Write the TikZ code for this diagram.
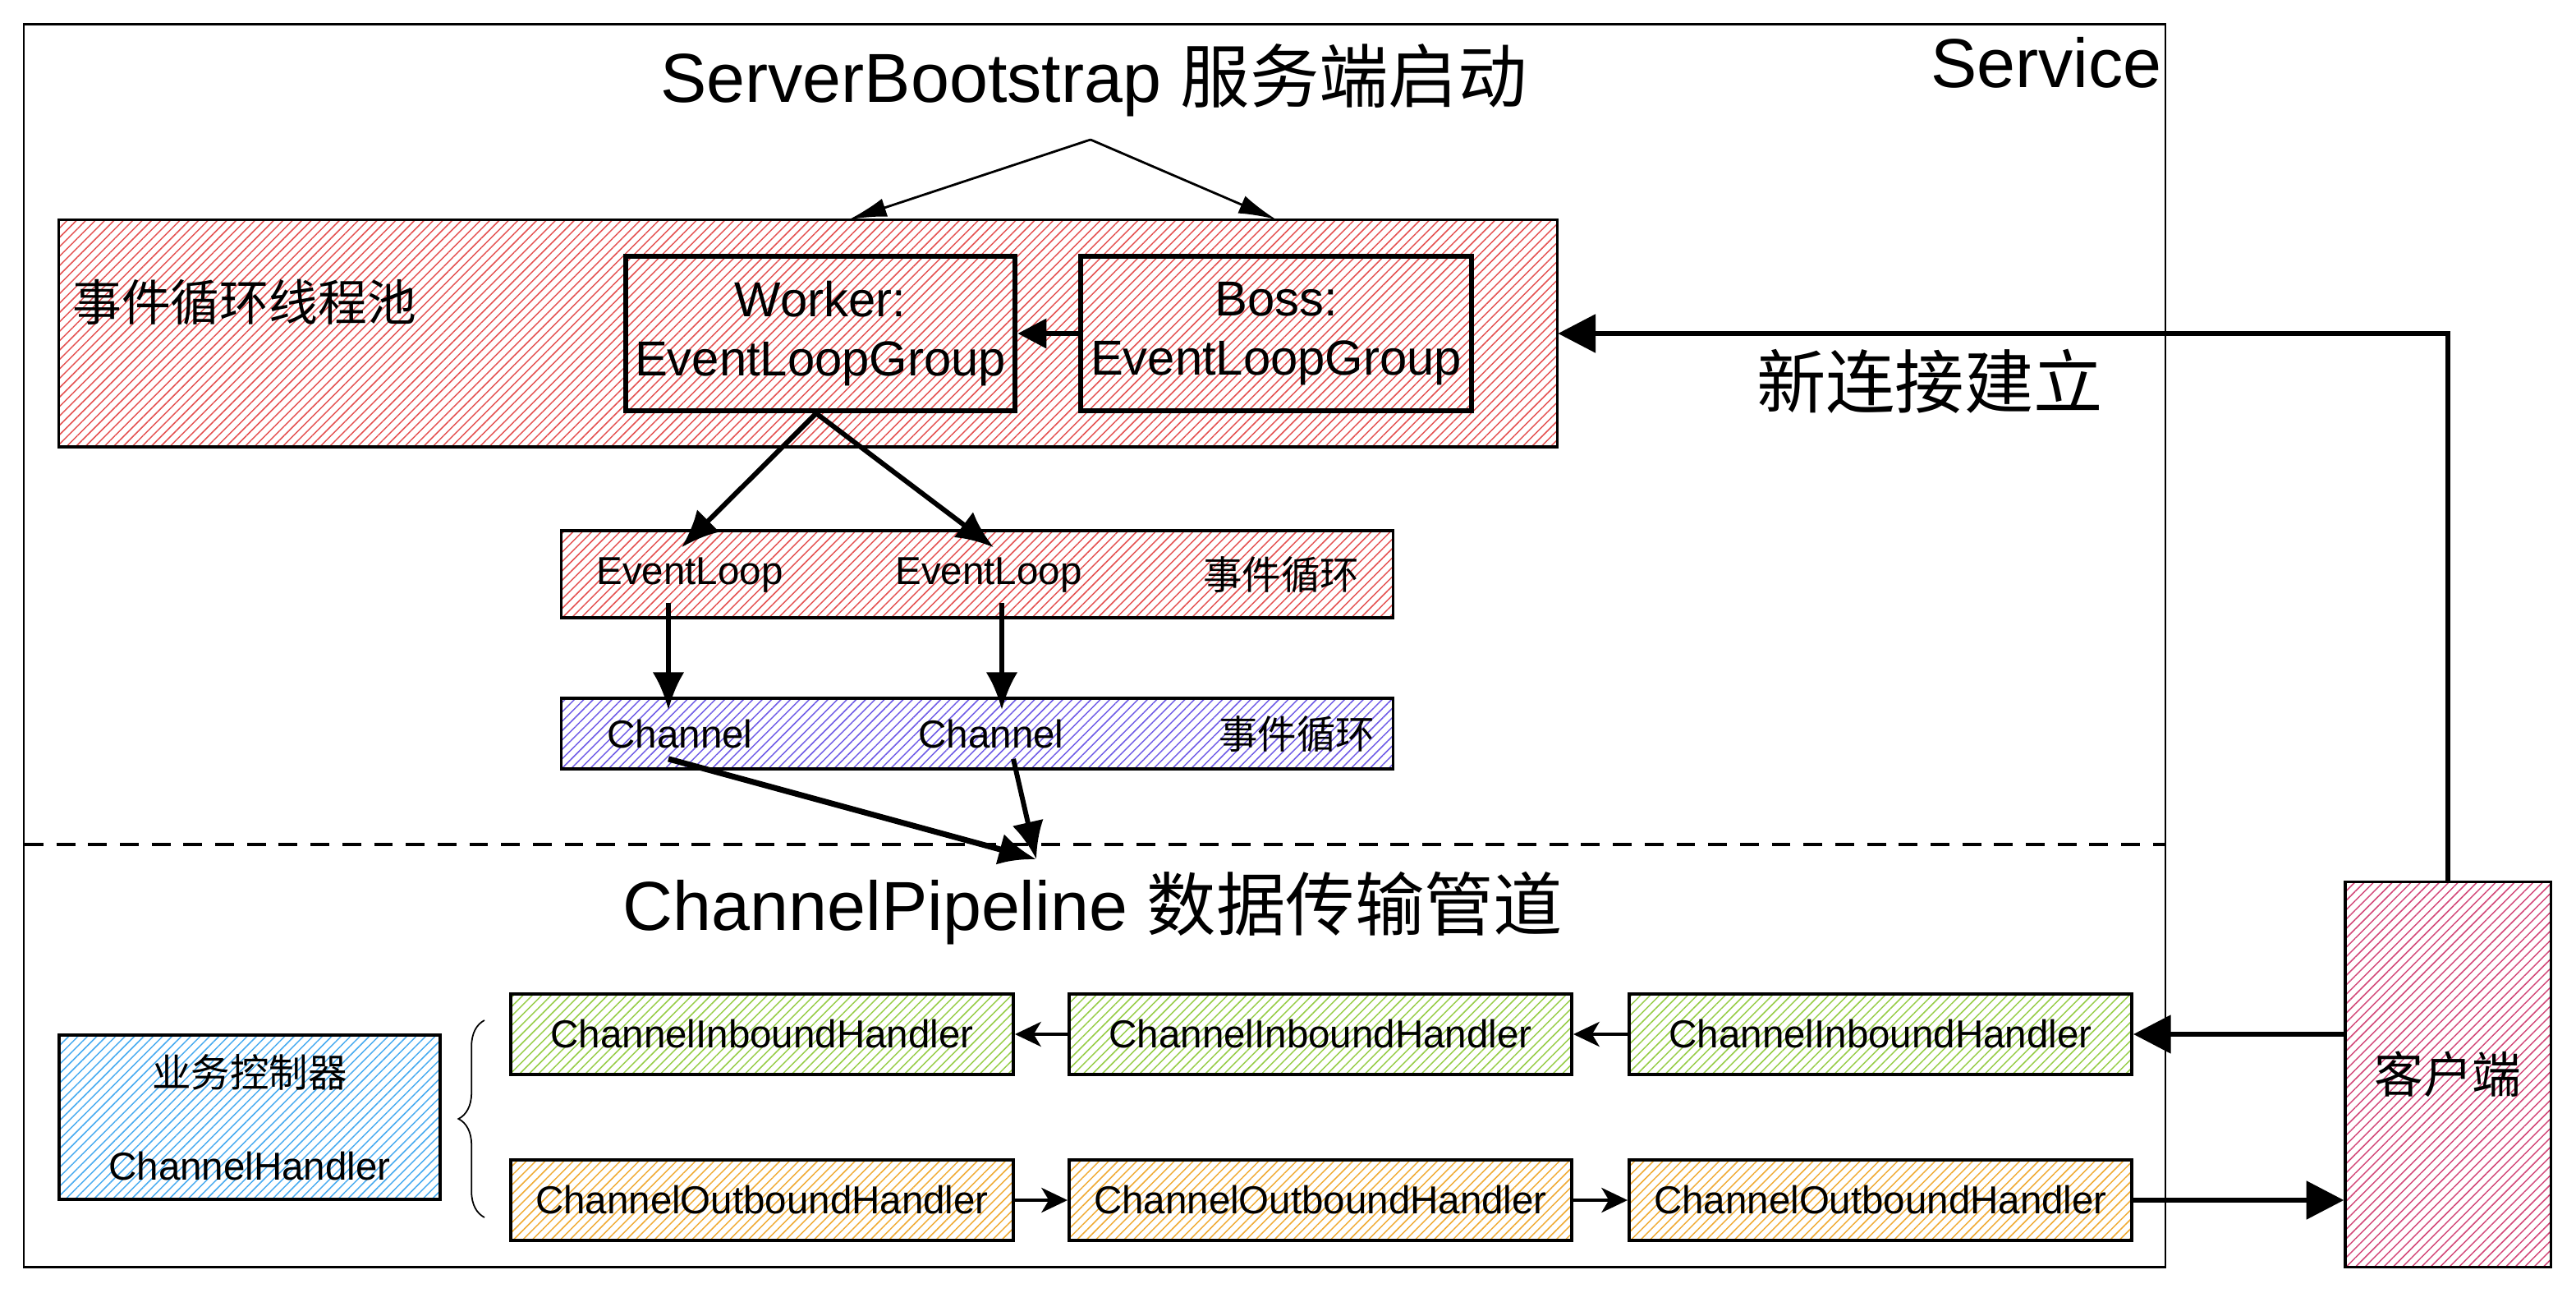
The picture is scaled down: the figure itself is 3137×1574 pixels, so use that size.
\documentclass[tikz,border=0pt]{standalone}
\usepackage{fontspec}
\setmainfont{Liberation Sans}
\newfontfamily\cjk{Noto Sans CJK SC}
\usetikzlibrary{arrows.meta,patterns.meta,calc,decorations.pathreplacing}
\definecolor{poolred}{RGB}{228,80,80}
\definecolor{chanblue}{RGB}{110,90,230}
\definecolor{bizblue}{RGB}{70,170,240}
\definecolor{ingreen}{RGB}{150,205,70}
\definecolor{outorange}{RGB}{240,170,50}
\definecolor{clientpink}{RGB}{210,70,120}
\newcommand{\bigtxt}{\fontsize{24}{28}\selectfont}
\newcommand{\midtxt}{\fontsize{17}{20.5}\selectfont}
\newcommand{\smalltxt}{\fontsize{13.5}{16}\selectfont}
\tikzset{
  hatch/.style={pattern={Lines[angle=45,distance=2.3pt,line width=0.42pt]}, pattern color=#1},
  blk/.style={draw, line width=1pt, inner sep=0pt},
  handler/.style={blk, minimum width=6.12cm, minimum height=0.98cm, font=\smalltxt},
  thinarrow/.style={line width=0.8pt, -{Latex[length=13pt,width=6.5pt]}},
  flowarrow/.style={line width=1.7pt, -{Latex[length=13pt,width=11pt]}},
  bigarrow/.style={line width=1.8pt, -{Triangle[length=13pt,width=13pt]}},
  chainarrow/.style={line width=1.4pt, -{Stealth[length=9pt,width=8.5pt,inset=2.5pt]}}
}
\begin{document}
\begin{tikzpicture}[x=0.01cm, y=-0.01cm]
    \fill[white] (0,0) rectangle (3137,1574);
    \useasboundingbox (0,0) rectangle (3137,1574);
    % 服务端外框
    \node[draw, line width=0.6pt, minimum width=26.06cm, minimum height=15.12cm, inner sep=0pt] (service) at (1333,786) {};
    \node[font=\bigtxt] (servicetxt) at (2492,76) {Service};
    \node[font=\bigtxt] (sbtitle) at (1332,98) {ServerBootstrap {\cjk 服务端启动}};
    \coordinate (fork) at (1328,170);
    % 事件循环线程池
    \node[blk, line width=0.9pt, hatch=poolred, minimum width=18.24cm, minimum height=2.76cm] (pool) at (984,406) {};
    \node[anchor=west, font=\midtxt\cjk] (pooltxt) at (76,368) {事件循环线程池};
    \node[blk, line width=1.8pt, minimum width=4.74cm, minimum height=1.88cm, align=center, font=\midtxt] (worker) at (999,406) {Worker:\\EventLoopGroup};
    \node[blk, line width=1.8pt, minimum width=4.76cm, minimum height=1.88cm, align=center, font=\midtxt] (boss) at (1554,406) {Boss:\\EventLoopGroup};
    \draw[thinarrow] (fork) -- ($(pool.north -| worker)+(35,0)$);
    \draw[thinarrow] (fork) -- (pool.north -| boss);
    \draw[bigarrow, -{Triangle[length=10pt,width=10pt]}] (boss) -- (worker);
    % 新连接
    \node[font=\bigtxt\cjk] (newconn) at (2350,464) {新连接建立};
    % EventLoop / Channel
    \node[blk, hatch=poolred, minimum width=10.12cm, minimum height=1.06cm] (loops) at (1190,699) {};
    \node[font=\smalltxt] (el1) at (840,700) {EventLoop};
    \node[font=\smalltxt] (el2) at (1204,700) {EventLoop};
    \node[font=\smalltxt\cjk] (eltxt) at (1560,700) {事件循环};
    \node[blk, hatch=chanblue, minimum width=10.12cm, minimum height=0.86cm] (chans) at (1190,893) {};
    \node[font=\smalltxt] (ch1) at (828,894) {Channel};
    \node[font=\smalltxt] (ch2) at (1207,894) {Channel};
    \node[font=\smalltxt\cjk] (chtxt) at (1579,894) {事件循环};
    \draw[flowarrow] ($(worker.south)+(-5,0)$) -- ($(el1.north)+(-10,0)$);
    \draw[flowarrow] ($(worker.south)+(-5,0)$) -- ($(el2.north)+(6,0)$);
    \draw[flowarrow] ($(el1.south)+(-26,0)$) -- ($(el1.south |- ch1.north)+(-26,0)$);
    \draw[flowarrow] ($(el2.south)+(16,0)$) -- ($(el2.south |- ch2.north)+(16,0)$);
    \coordinate (merge) at (1262,1046);
    \draw[flowarrow, line width=2pt] ($(ch1.south)+(-14,0)$) -- (merge);
    \draw[flowarrow] ($(ch2.south)+(27,0)$) -- (merge);
    % 分隔线
    \coordinate (divl) at (30,1028);
    \coordinate (divr) at (2636,1028);
    \draw[line width=1.1pt, dash pattern=on 6.5pt off 4.5pt] (divl) -- (divr);
    % ChannelPipeline
    \node[font=\bigtxt] (pipetitle) at (1331,1106) {ChannelPipeline {\cjk 数据传输管道}};
    \node[blk, hatch=bizblue, minimum width=4.64cm, minimum height=2cm, align=center, font=\smalltxt] (biz) at (304,1360) {{\cjk 业务控制器}\\[16pt]ChannelHandler};
    \foreach \n/\x in {1/928,2/1608,3/2290} {
        \node[handler, hatch=ingreen] (in\n) at (\x,1259) {ChannelInboundHandler};
        \node[handler, hatch=outorange] (out\n) at (\x,1461) {ChannelOutboundHandler};
    }
    \coordinate (bracetop) at (590,1242);
    \coordinate (bracebot) at (590,1482);
    \draw[line width=0.5pt, decorate, decoration={brace, amplitude=9pt}] (bracebot) -- (bracetop);
    \draw[chainarrow] (in3) -- (in2);
    \draw[chainarrow] (in2) -- (in1);
    \draw[chainarrow] (out1) -- (out2);
    \draw[chainarrow] (out2) -- (out3);
    % 客户端
    \node[blk, line width=0.9pt, hatch=clientpink, minimum width=2.5cm, minimum height=4.68cm, font=\midtxt\cjk] (client) at (2981,1308) {客户端};
    \draw[bigarrow] (client.north) |- (pool.east);
    \draw[bigarrow] (client.west |- in3.east) -- (in3.east);
    \draw[bigarrow] (out3.east) -- (out3.east -| client.west);
\end{tikzpicture}
\end{document}
